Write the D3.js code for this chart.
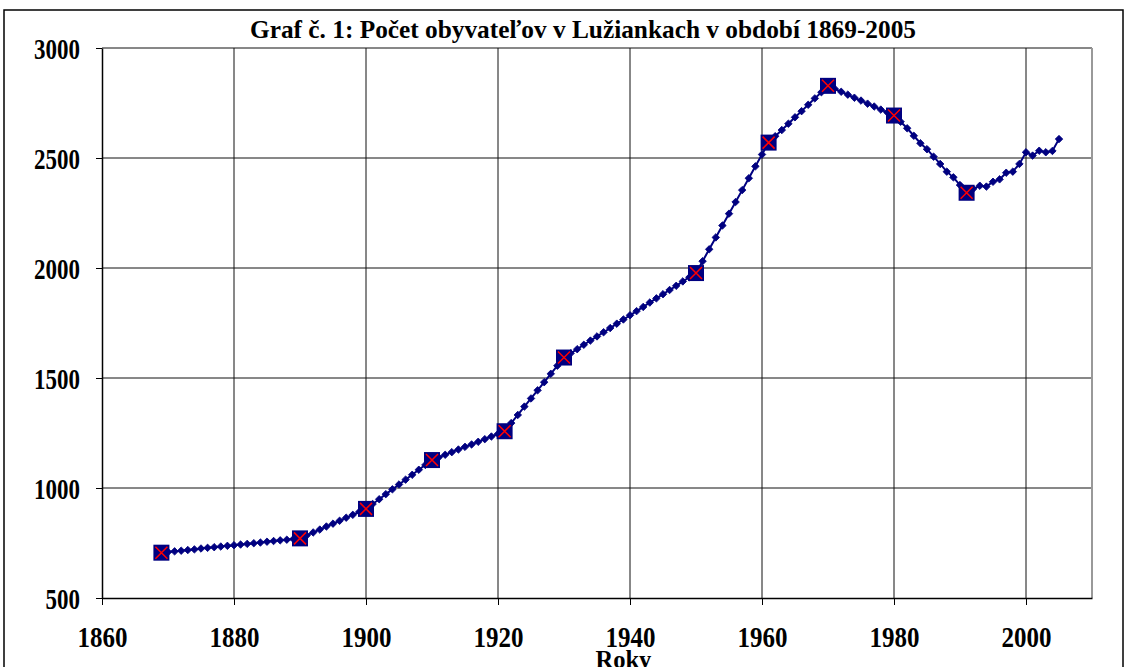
<!DOCTYPE html>
<html>
<head>
<meta charset="utf-8">
<script src="https://cdn.jsdelivr.net/npm/d3@7"></script>
<style>
    body { margin: 0; background: #fff; }
    #wrapper { width: 1126px; height: 667px; overflow: hidden; }
    text { font-family: "Liberation Serif", "Times New Roman", serif; font-weight: bold; }
</style>
</head>
<body>
<div id="wrapper"></div>
<script>
const chart_title = "Graf č. 1: Počet obyvateľov v Lužiankach v období 1869-2005";
const x_label_text = "Roky";

const x_ticks = [1860, 1880, 1900, 1920, 1940, 1960, 1980, 2000];
const y_ticks = [500, 1000, 1500, 2000, 2500, 3000];

// yearly values
const years = [
    1869, 1870, 1871, 1872, 1873, 1874, 1875, 1876, 1877, 1878, 1879,
    1880, 1881, 1882, 1883, 1884, 1885, 1886, 1887, 1888, 1889,
    1890, 1891, 1892, 1893, 1894, 1895, 1896, 1897, 1898, 1899,
    1900, 1901, 1902, 1903, 1904, 1905, 1906, 1907, 1908, 1909,
    1910, 1911, 1912, 1913, 1914, 1915, 1916, 1917, 1918, 1919,
    1920, 1921, 1922, 1923, 1924, 1925, 1926, 1927, 1928, 1929,
    1930, 1931, 1932, 1933, 1934, 1935, 1936, 1937, 1938, 1939,
    1940, 1941, 1942, 1943, 1944, 1945, 1946, 1947, 1948, 1949,
    1950, 1951, 1952, 1953, 1954, 1955, 1956, 1957, 1958, 1959,
    1960, 1961, 1962, 1963, 1964, 1965, 1966, 1967, 1968, 1969,
    1970, 1971, 1972, 1973, 1974, 1975, 1976, 1977, 1978, 1979,
    1980, 1981, 1982, 1983, 1984, 1985, 1986, 1987, 1988, 1989,
    1990, 1991, 1992, 1993, 1994, 1995, 1996, 1997, 1998, 1999,
    2000, 2001, 2002, 2003, 2004, 2005
];
const population = [
    706, 709, 712, 715, 718, 721, 725, 728, 731, 734, 737,
    740, 743, 746, 749, 752, 756, 759, 762, 765, 768,
    771, 784, 798, 811, 825, 838, 851, 865, 878, 892,
    905, 927, 949, 972, 994, 1016, 1038, 1060, 1083, 1105,
    1127, 1139, 1151, 1163, 1175, 1187, 1198, 1210, 1222, 1234,
    1246, 1258, 1295, 1332, 1370, 1407, 1444, 1481, 1519, 1556,
    1593, 1612, 1631, 1651, 1670, 1689, 1708, 1727, 1747, 1766,
    1785, 1804, 1823, 1843, 1862, 1881, 1900, 1919, 1939, 1958,
    1977, 2031, 2085, 2139, 2193, 2247, 2300, 2354, 2408, 2462,
    2516, 2570, 2599, 2627, 2656, 2685, 2713, 2742, 2771, 2799,
    2828, 2815, 2801, 2788, 2774, 2761, 2747, 2734, 2720, 2707,
    2693, 2665, 2635, 2601, 2567, 2540, 2506, 2473, 2438, 2412,
    2377, 2342, 2360, 2374, 2370, 2392, 2403, 2433, 2438, 2473,
    2526, 2511, 2533, 2526, 2532, 2586
];

// census years (big square markers)
const census_years = [1869, 1890, 1900, 1910, 1921, 1930, 1950, 1961, 1970, 1980, 1991];
const census_population = [706, 771, 905, 1127, 1258, 1593, 1977, 2570, 2828, 2693, 2342];

function drawChart() {
    const dataset = years.map((y, i) => ({ year: y, value: population[i] }));
    const census = census_years.map((y, i) => ({ year: y, value: census_population[i] }));
    const x_accessor = d => d.year;
    const y_accessor = d => d.value;

    let dimensions = {
        width: 1126,
        height: 667,
        margin: { top: 48, right: 34, bottom: 69, left: 102 }
    };
    dimensions.bounded_width = dimensions.width - dimensions.margin.left - dimensions.margin.right;
    dimensions.bounded_height = dimensions.height - dimensions.margin.top - dimensions.margin.bottom;

    const wrapper = d3.select("#wrapper")
        .append("svg")
        .attr("width", dimensions.width)
        .attr("height", dimensions.height);

    // outer frame
    wrapper.append("rect")
        .attr("x", 4)
        .attr("y", 10)
        .attr("width", 1119)
        .attr("height", 700)
        .attr("fill", "none")
        .attr("stroke", "#000")
        .attr("stroke-width", 1.5);

    wrapper.append("text")
        .attr("x", 583)
        .attr("y", 38)
        .attr("text-anchor", "middle")
        .attr("font-size", 26)
        .attr("textLength", 666)
        .attr("lengthAdjust", "spacingAndGlyphs")
        .text(chart_title);

    const bounds = wrapper.append("g")
        .attr("transform", `translate(${dimensions.margin.left},${dimensions.margin.top})`);

    const x_scale = d3.scaleLinear()
        .domain([1860, 2010])
        .range([0, dimensions.bounded_width]);

    const y_scale = d3.scaleLinear()
        .domain([500, 3000])
        .range([dimensions.bounded_height, 0]);

    // gridlines
    bounds.append("g").selectAll("line")
        .data(y_ticks.slice(1))
        .join("line")
        .attr("x1", 0)
        .attr("x2", dimensions.bounded_width)
        .attr("y1", d => y_scale(d))
        .attr("y2", d => y_scale(d))
        .attr("stroke", "#111")
        .attr("stroke-width", 1);

    bounds.append("g").selectAll("line")
        .data(x_ticks.slice(1))
        .join("line")
        .attr("x1", d => x_scale(d))
        .attr("x2", d => x_scale(d))
        .attr("y1", 0)
        .attr("y2", dimensions.bounded_height)
        .attr("stroke", "#111")
        .attr("stroke-width", 1);

    // right border of plot area
    bounds.append("line")
        .attr("x1", dimensions.bounded_width)
        .attr("x2", dimensions.bounded_width)
        .attr("y1", 0)
        .attr("y2", dimensions.bounded_height)
        .attr("stroke", "#999")
        .attr("stroke-width", 2);

    // axes
    const x_axis_gen = d3.axisBottom(x_scale)
        .tickValues(x_ticks)
        .tickSize(7)
        .tickSizeOuter(0)
        .tickFormat(d3.format("d"));
    const x_axis = bounds.append("g")
        .call(x_axis_gen)
        .attr("transform", `translate(0,${dimensions.bounded_height})`);
    x_axis.select(".domain").attr("stroke", "#000").attr("stroke-width", 1.5);
    x_axis.selectAll(".tick line").attr("stroke", "#000");
    x_axis.selectAll("text")
        .attr("fill", "#000")
        .attr("font-size", 30)
        .attr("textLength", 50)
        .attr("lengthAdjust", "spacingAndGlyphs")
        .attr("dy", null)
        .attr("y", 49);

    x_axis.append("text")
        .attr("x", x_scale(1864) + dimensions.bounded_width / 2)
        .attr("y", 70)
        .attr("fill", "#000")
        .attr("text-anchor", "middle")
        .attr("font-size", 26)
        .attr("textLength", 56)
        .attr("lengthAdjust", "spacingAndGlyphs")
        .text(x_label_text);

    const y_axis_gen = d3.axisLeft(y_scale)
        .tickValues(y_ticks)
        .tickSize(6)
        .tickSizeOuter(0)
        .tickPadding(16)
        .tickFormat(d3.format("d"));
    const y_axis = bounds.append("g")
        .call(y_axis_gen);
    y_axis.select(".domain").attr("stroke", "#000").attr("stroke-width", 1.5);
    y_axis.selectAll(".tick line").attr("stroke", "#000");
    y_axis.selectAll("text")
        .attr("fill", "#000")
        .attr("font-size", 29)
        .attr("textLength", d => String(d).length * 11.5)
        .attr("lengthAdjust", "spacingAndGlyphs")
        .attr("dy", 10);

    // line with small markers
    const line_gen = d3.line()
        .x(d => x_scale(x_accessor(d)))
        .y(d => y_scale(y_accessor(d)));

    bounds.append("path")
        .datum(dataset)
        .attr("d", line_gen)
        .attr("fill", "none")
        .attr("stroke", "#000080")
        .attr("stroke-width", 2);

    const small_symbol = d3.symbol().type(d3.symbolSquare).size(28);
    bounds.append("g").selectAll("path")
        .data(dataset)
        .join("path")
        .attr("d", small_symbol)
        .attr("transform", d => `translate(${x_scale(x_accessor(d))},${y_scale(y_accessor(d))}) rotate(45)`)
        .attr("fill", "#000080")
        .attr("stroke", "#000080")
        .attr("stroke-width", 0.8)
        .attr("stroke-linejoin", "round");

    // census markers
    const big = bounds.append("g").selectAll("g")
        .data(census)
        .join("g")
        .attr("transform", d => `translate(${x_scale(x_accessor(d))},${y_scale(y_accessor(d))})`);
    big.append("rect")
        .attr("x", -8)
        .attr("y", -8)
        .attr("width", 16)
        .attr("height", 16)
        .attr("fill", "#000080");
    big.append("path")
        .attr("d", "M-6,-6L6,6M6,-6L-6,6")
        .attr("stroke", "#ff0000")
        .attr("stroke-width", 1.5);
}

drawChart();
</script>
</body>
</html>
